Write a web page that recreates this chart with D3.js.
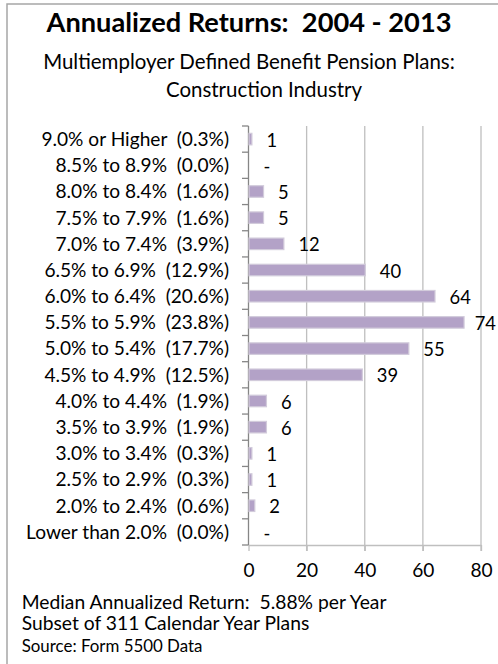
<!DOCTYPE html>
<html><head><meta charset="utf-8">
<script src="https://cdn.jsdelivr.net/npm/d3@7"></script>
<style>
html,body{margin:0;padding:0;background:#fff;}
svg text{font-family:Lato,"Open Sans",sans-serif;white-space:pre;fill:#000;}
</style></head>
<body><svg id="chart" width="498" height="664"></svg>
<script>
const ranges = ["9.0% or Higher","8.5% to 8.9%","8.0% to 8.4%","7.5% to 7.9%","7.0% to 7.4%","6.5% to 6.9%","6.0% to 6.4%","5.5% to 5.9%","5.0% to 5.4%","4.5% to 4.9%","4.0% to 4.4%","3.5% to 3.9%","3.0% to 3.4%","2.5% to 2.9%","2.0% to 2.4%","Lower than 2.0%"];
const shares = ["0.3%","0.0%","1.6%","1.6%","3.9%","12.9%","20.6%","23.8%","17.7%","12.5%","1.9%","1.9%","0.3%","0.3%","0.6%","0.0%"];
const counts = [1,0,5,5,12,40,64,74,55,39,6,6,1,1,2,0];
const xTicks = [0,20,40,60,80];
const title = "Annualized Returns:  2004 - 2013";
const subtitle = ["Multiemployer Defined Benefit Pension Plans:","Construction Industry"];
const notes = ["Median Annualized Return:  5.88% per Year","Subset of 311 Calendar Year Plans"];
const source = "Source: Form 5500 Data";

const svg = d3.select("#chart");
const labels = ranges.map((r,i)=>r+"  ("+shares[i]+")");

function fit(sel, target){
  const w = sel.node().getComputedTextLength();
  const fs = parseFloat(sel.style("font-size"));
  sel.style("font-size", (fs*target/w)+"px");
  return fs*target/w;
}

// frame
svg.append("rect").attr("x",7).attr("y",4).attr("width",700).attr("height",800)
  .attr("fill","none").attr("stroke","#a6a6a6").attr("stroke-width",1.5);

// titles
const t = svg.append("text").attr("x",249).attr("y",32).attr("text-anchor","middle")
  .style("font-weight","bold").style("font-size","24px").text(title);
fit(t,405);
const s1 = svg.append("text").attr("x",249).attr("y",69).attr("text-anchor","middle")
  .style("font-size","18px").text(subtitle[0]);
const subFs = fit(s1,412);
svg.append("text").attr("x",264).attr("y",97).attr("text-anchor","middle")
  .style("font-size",subFs+"px").text(subtitle[1]);

const x = d3.scaleLinear().domain([0,80]).range([248.5,481]);
const y = d3.scaleBand().domain(labels).range([126,545]).paddingInner(0.56).paddingOuter(0.28);

// gridlines
svg.append("g").selectAll("line").data(xTicks.filter(d=>d>0)).join("line")
  .attr("x1",d=>x(d)).attr("x2",d=>x(d)).attr("y1",126).attr("y2",551)
  .attr("stroke","#bfbfbf").attr("stroke-width",1.3);

// x axis
const xa = svg.append("g").attr("transform","translate(0,545)")
  .call(d3.axisBottom(x).tickValues(xTicks).tickSize(6).tickPadding(10).tickSizeOuter(0));
xa.select(".domain").attr("stroke","#bfbfbf").attr("stroke-width",1.3);
xa.selectAll(".tick line").attr("stroke","#bfbfbf").attr("stroke-width",1.3);
xa.selectAll("text").attr("fill","#000").attr("dy",null).attr("y",32);

// y axis
const yEdges = d3.range(labels.length+1).map(i=>126+i*(545-126)/labels.length);
svg.append("line").attr("x1",248.5).attr("x2",248.5).attr("y1",126).attr("y2",545)
  .attr("stroke","#868686").attr("stroke-width",1.3);
svg.append("g").selectAll("line").data(yEdges).join("line")
  .attr("x1",242).attr("x2",248.5).attr("y1",d=>d).attr("y2",d=>d)
  .attr("stroke","#868686").attr("stroke-width",1.3);

// category labels
const cl = svg.append("g").selectAll("text").data(labels).join("text")
  .attr("x",229).attr("y",d=>y(d)+y.bandwidth()/2).attr("dy","0.36em")
  .attr("text-anchor","end").style("font-size","17px").text(d=>d);
const longest = cl.filter((d,i)=>i===labels.length-1);
const catFs = fit(longest,203);
cl.style("font-size",catFs+"px");
xa.selectAll("text").style("font-size",catFs+"px").style("font-family","Lato,'Open Sans',sans-serif");

// bars
svg.append("g").selectAll("rect").data(counts).join("rect")
  .attr("x",x(0)+0.5).attr("y",(d,i)=>y(labels[i]))
  .attr("width",d=>Math.max(0,x(d)-x(0)))
  .attr("height",y.bandwidth())
  .attr("fill","#b3a2c7").attr("stroke","#d2cbdb").attr("stroke-width",1.2)
  .attr("visibility",d=>d>0?"visible":"hidden");

// value labels
svg.append("g").selectAll("text").data(counts).join("text")
  .attr("x",d=>x(d)+15).attr("y",(d,i)=>y(labels[i])+y.bandwidth()/2+1).attr("dy","0.36em")
  .style("font-size",(catFs*0.96)+"px").text(d=>d===0?"-":d)
  .each(function(){
    const w = this.getComputedTextLength();
    const cx = +this.getAttribute("x");
    if (cx + w > 496) this.setAttribute("x", 496 - w);
  });

// notes
const n1 = svg.append("text").attr("x",21.7).attr("y",609).style("font-size","17px").text(notes[0]);
const noteFs = fit(n1,365);
svg.append("text").attr("x",21.7).attr("y",630).style("font-size",noteFs+"px").text(notes[1]);
const src = svg.append("text").attr("x",21.7).attr("y",652).style("font-size","15px").text(source);
fit(src,181);
</script></body></html>
